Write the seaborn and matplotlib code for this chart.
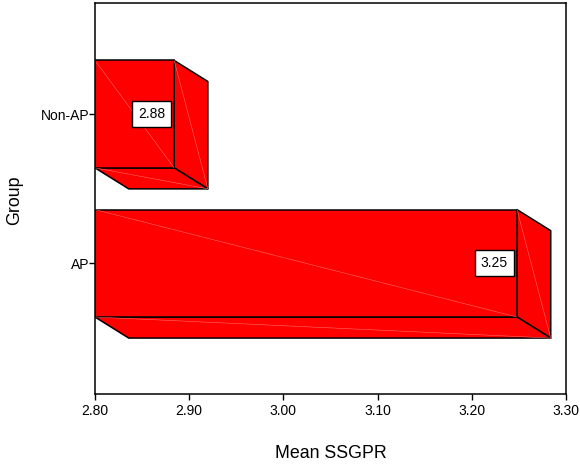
"""Mean SSGPR by group, drawn as a 3D-look horizontal bar chart."""

import matplotlib
matplotlib.use("Agg")
import matplotlib.pyplot as plt
import pandas as pd
import seaborn as sns
from matplotlib.patches import Polygon

groups = ["Non-AP", "AP"]
mean_ssgpr = [2.884, 3.248]
value_labels = ["2.88", "3.25"]
x_ticks = [2.80, 2.90, 3.00, 3.10, 3.20, 3.30]

RED = "#ff0000"
SHEEN = "#ff6a6a"
DEPTH_X = 0.0358
DEPTH_Y = 0.141

sns.set_theme(style="white")
plt.rcParams["font.family"] = ["Liberation Sans", "DejaVu Sans"]

df = pd.DataFrame({"Group": groups, "Mean SSGPR": mean_ssgpr})

fig = plt.figure(figsize=(5.8, 4.66), dpi=100)
ax = fig.add_axes([95 / 580, 1 - 394 / 466, 471 / 580, 391 / 466])

sns.barplot(
    data=df, x="Mean SSGPR", y="Group", orient="h", color=RED, saturation=1,
    width=0.72, edgecolor="black", linewidth=1.1, zorder=3, ax=ax,
)

ax.set_xlim(2.80, 3.30)
ax.set_ylim(1.876, -0.745)
ax.set_xticks(x_ticks)
ax.set_xticklabels([f"{t:.2f}" for t in x_ticks])

for bar, label in zip(ax.patches, value_labels):
    left = ax.get_xlim()[0]
    right = bar.get_x() + bar.get_width()
    top = bar.get_y()
    bottom = top + bar.get_height()

    # faces behind the front of the bar
    side = [(right, top), (right + DEPTH_X, top + DEPTH_Y),
            (right + DEPTH_X, bottom + DEPTH_Y), (right, bottom)]
    floor = [(left, bottom), (right, bottom), (right + DEPTH_X, bottom + DEPTH_Y),
             (left + DEPTH_X, bottom + DEPTH_Y)]
    for face in (side, floor):
        ax.add_patch(Polygon(face, closed=True, facecolor=RED, edgecolor="black",
                             linewidth=1.1, joinstyle="round", zorder=2))

    # faint diagonals left by the shading
    for (x0, y0), (x1, y1) in [((left, top), (right, bottom)),
                               (side[0], side[2]),
                               (floor[0], floor[2])]:
        ax.plot([x0, x1], [y0, y1], color=SHEEN, linewidth=0.4, zorder=4)

    ax.annotate(
        label, xy=(right, (top + bottom) / 2), xytext=(-6.5, 0),
        textcoords="offset points", ha="right", va="center", fontsize=10,
        color="black", zorder=6,
        bbox=dict(boxstyle="square,pad=0.42", facecolor="white",
                  edgecolor="black", linewidth=1.0),
    )

ax.set_xlabel("Mean SSGPR", fontsize=12.8, color="black")
ax.set_ylabel("Group", fontsize=12.8, color="black")
ax.xaxis.set_label_coords((331 - 95) / 471, -(453 - 394) / 391, transform=ax.transAxes)
ax.yaxis.set_label_coords(-(95 - 15) / 471, (394 - 200) / 391, transform=ax.transAxes)
ax.xaxis.label.set_va("center")
ax.yaxis.label.set_va("center")
ax.tick_params(axis="both", which="major", length=4, width=1, color="black",
               labelsize=10, labelcolor="black", bottom=True, left=True)
ax.tick_params(axis="x", pad=3)
ax.tick_params(axis="y", pad=0)

for spine in ax.spines.values():
    spine.set_visible(True)
    spine.set_color("black")
    spine.set_linewidth(1.1)
    spine.set_zorder(5)

fig.savefig("out.png", dpi=100, facecolor="white")
